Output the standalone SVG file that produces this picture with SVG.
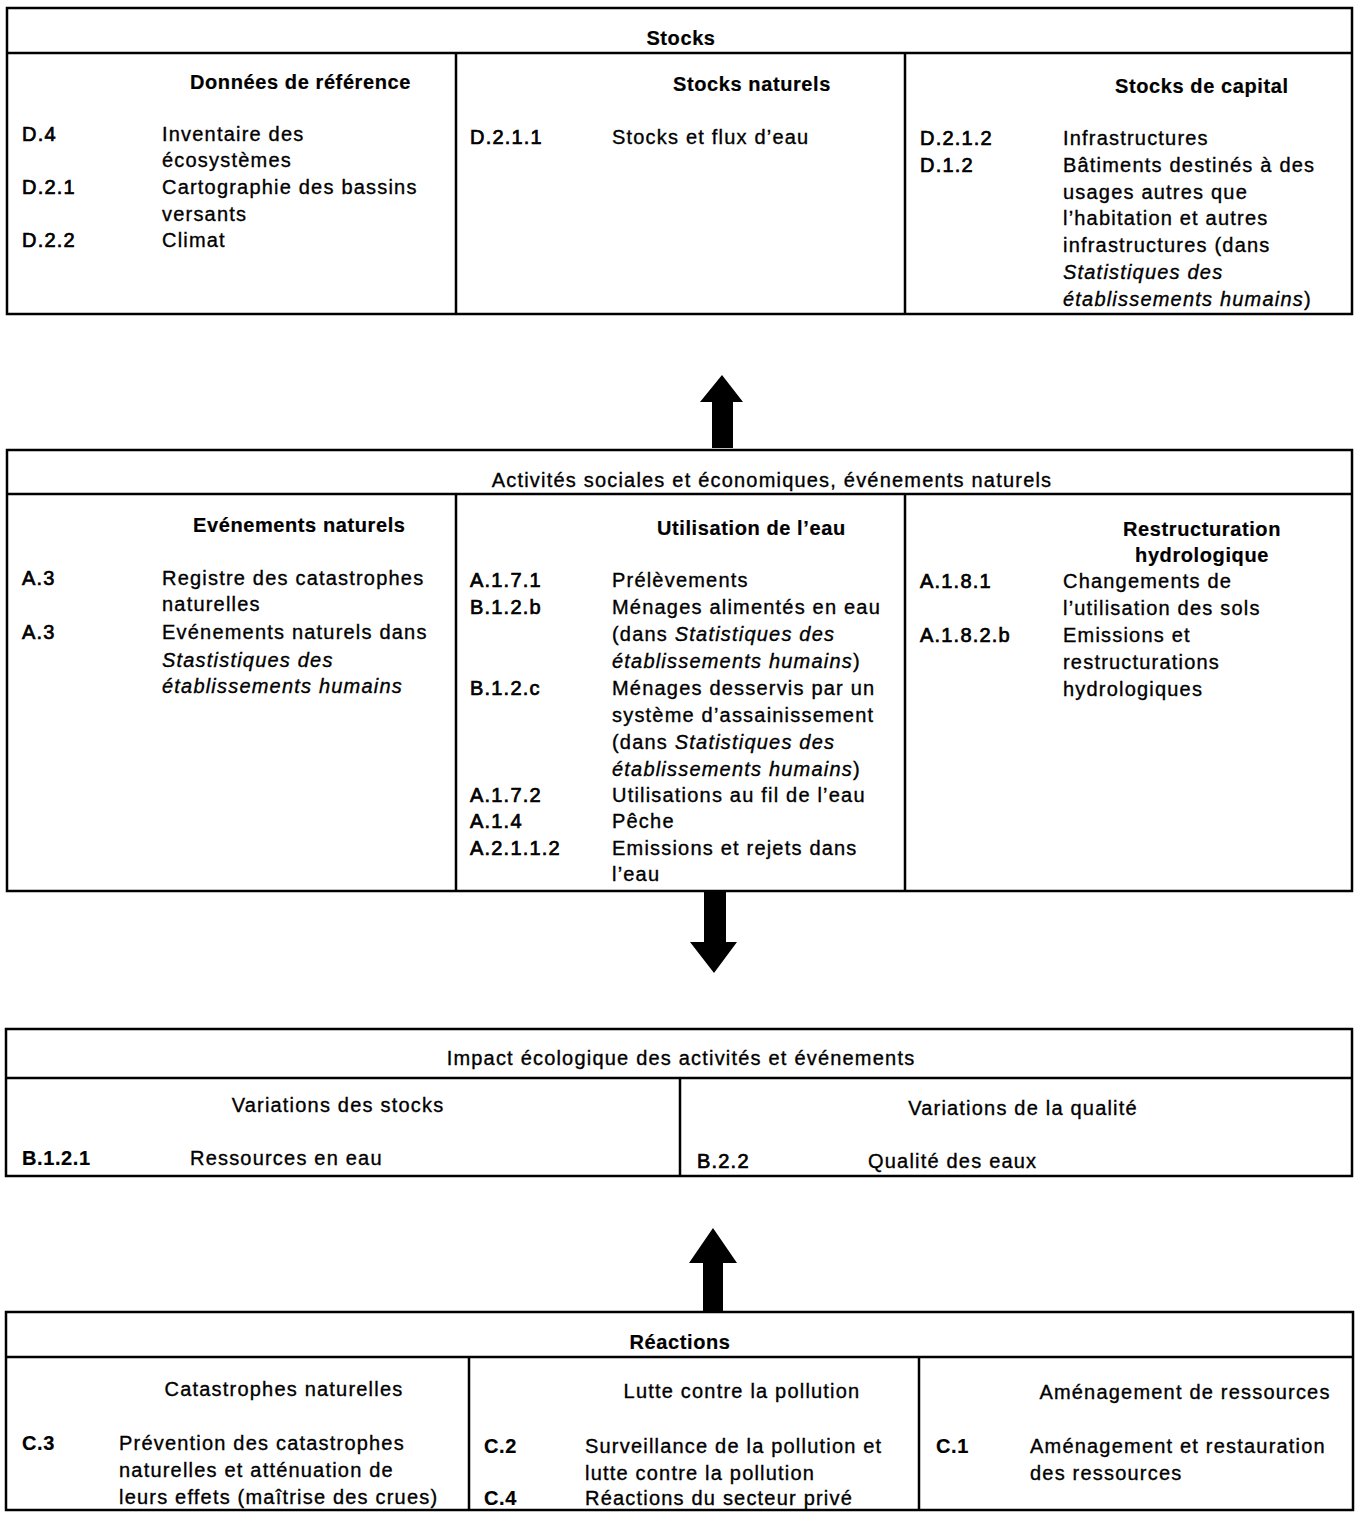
<svg xmlns="http://www.w3.org/2000/svg" width="1357" height="1515" viewBox="0 0 1357 1515">
<style>
.bx{fill:none;stroke:#000;stroke-width:2.5}
.ln{stroke:#000;stroke-width:2.5}
text{font-family:"Liberation Sans",Arial,sans-serif;font-size:20px;fill:#000;letter-spacing:1.2px;stroke:#000;stroke-width:0.35px}
.b{font-weight:bold;letter-spacing:0.6px;stroke-width:0.2px}
.k{stroke-width:0.7px}
.c{text-anchor:middle}
.i{font-style:italic}
.arr{fill:#000}
</style>
<rect width="1357" height="1515" fill="#fff"/>

<g id="stocks">
<rect class="bx" x="7" y="8" width="1345" height="306"/>
<line class="ln" x1="7" y1="53" x2="1352" y2="53"/>
<line class="ln" x1="456" y1="53" x2="456" y2="314"/>
<line class="ln" x1="905" y1="53" x2="905" y2="314"/>
<text class="b c" x="681" y="45">Stocks</text>
<text class="b" x="190" y="89">Données de référence</text>
<text class="b" x="673" y="91">Stocks naturels</text>
<text class="b" x="1115" y="93">Stocks de capital</text>
<text class="k" x="22" y="141">D.4</text><text x="162" y="141">Inventaire des</text>
<text x="162" y="167">écosystèmes</text>
<text class="k" x="22" y="194">D.2.1</text><text x="162" y="194">Cartographie des bassins</text>
<text x="162" y="221">versants</text>
<text class="k" x="22" y="247">D.2.2</text><text x="162" y="247">Climat</text>
<text class="k" x="470" y="144">D.2.1.1</text><text x="612" y="144">Stocks et flux d’eau</text>
<text class="k" x="920" y="145">D.2.1.2</text><text x="1063" y="145">Infrastructures</text>
<text class="k" x="920" y="172">D.1.2</text><text x="1063" y="172">Bâtiments destinés à des</text>
<text x="1063" y="199">usages autres que</text>
<text x="1063" y="225">l’habitation et autres</text>
<text x="1063" y="252">infrastructures (dans</text>
<text class="i" x="1063" y="279">Statistiques des</text>
<text x="1063" y="306"><tspan class="i">établissements humains</tspan>)</text>
</g>

<g id="activites">
<rect class="bx" x="7" y="450" width="1345" height="441"/>
<line class="ln" x1="7" y1="494" x2="1352" y2="494"/>
<line class="ln" x1="456" y1="494" x2="456" y2="891"/>
<line class="ln" x1="905" y1="494" x2="905" y2="891"/>
<text class="c" x="772" y="487">Activités sociales et économiques, événements naturels</text>
<text class="b" x="193" y="532">Evénements naturels</text>
<text class="b" x="657" y="535">Utilisation de l’eau</text>
<text class="b c" x="1202" y="536">Restructuration</text>
<text class="b c" x="1202" y="562">hydrologique</text>
<text class="k" x="22" y="585">A.3</text><text x="162" y="585">Registre des catastrophes</text>
<text x="162" y="611">naturelles</text>
<text class="k" x="22" y="639">A.3</text><text x="162" y="639">Evénements naturels dans</text>
<text class="i" x="162" y="667">Stastistiques des</text>
<text class="i" x="162" y="693">établissements humains</text>
<text class="k" x="470" y="587">A.1.7.1</text><text x="612" y="587">Prélèvements</text>
<text class="k" x="470" y="614">B.1.2.b</text><text x="612" y="614">Ménages alimentés en eau</text>
<text x="612" y="641">(dans <tspan class="i">Statistiques des</tspan></text>
<text x="612" y="668"><tspan class="i">établissements humains</tspan>)</text>
<text class="k" x="470" y="695">B.1.2.c</text><text x="612" y="695">Ménages desservis par un</text>
<text x="612" y="722">système d’assainissement</text>
<text x="612" y="749">(dans <tspan class="i">Statistiques des</tspan></text>
<text x="612" y="776"><tspan class="i">établissements humains</tspan>)</text>
<text class="k" x="470" y="802">A.1.7.2</text><text x="612" y="802">Utilisations au fil de l’eau</text>
<text class="k" x="470" y="828">A.1.4</text><text x="612" y="828">Pêche</text>
<text class="k" x="470" y="855">A.2.1.1.2</text><text x="612" y="855">Emissions et rejets dans</text>
<text x="612" y="881">l’eau</text>
<text class="k" x="920" y="588">A.1.8.1</text><text x="1063" y="588">Changements de</text>
<text x="1063" y="615">l’utilisation des sols</text>
<text class="k" x="920" y="642">A.1.8.2.b</text><text x="1063" y="642">Emissions et</text>
<text x="1063" y="669">restructurations</text>
<text x="1063" y="696">hydrologiques</text>
</g>

<g id="impact">
<rect class="bx" x="6" y="1029" width="1346" height="147"/>
<line class="ln" x1="6" y1="1078" x2="1352" y2="1078"/>
<line class="ln" x1="680" y1="1078" x2="680" y2="1176"/>
<text class="c" x="681" y="1065">Impact écologique des activités et événements</text>
<text class="c" x="338" y="1112">Variations des stocks</text>
<text class="c" x="1023" y="1115">Variations de la qualité</text>
<text class="b" x="22" y="1165">B.1.2.1</text><text x="190" y="1165">Ressources en eau</text>
<text class="k" x="697" y="1168">B.2.2</text><text x="868" y="1168">Qualité des eaux</text>
</g>

<g id="reactions">
<rect class="bx" x="6" y="1312" width="1347" height="198"/>
<line class="ln" x1="6" y1="1357" x2="1353" y2="1357"/>
<line class="ln" x1="469" y1="1357" x2="469" y2="1510"/>
<line class="ln" x1="919" y1="1357" x2="919" y2="1510"/>
<text class="b c" x="680" y="1349">Réactions</text>
<text class="c" x="284" y="1396">Catastrophes naturelles</text>
<text class="c" x="742" y="1398">Lutte contre la pollution</text>
<text class="c" x="1185" y="1399">Aménagement de ressources</text>
<text class="b" x="22" y="1450">C.3</text><text x="119" y="1450">Prévention des catastrophes</text>
<text x="119" y="1477">naturelles et atténuation de</text>
<text x="119" y="1504">leurs effets (maîtrise des crues)</text>
<text class="b" x="484" y="1453">C.2</text><text x="585" y="1453">Surveillance de la pollution et</text>
<text x="585" y="1480">lutte contre la pollution</text>
<text class="b" x="484" y="1505">C.4</text><text x="585" y="1505">Réactions du secteur privé</text>
<text class="b" x="936" y="1453">C.1</text><text x="1030" y="1453">Aménagement et restauration</text>
<text x="1030" y="1480">des ressources</text>
</g>

<g id="connectors">
<polygon class="arr" points="722,375 743,402 733,402 733,448 712,448 712,402 700,402"/>
<polygon class="arr" points="704,892 726,892 726,942 737,942 714,973 690,942 704,942"/>
<polygon class="arr" points="713,1228 737,1263 723,1263 723,1311 703,1311 703,1263 689,1263"/>
</g>
</svg>
